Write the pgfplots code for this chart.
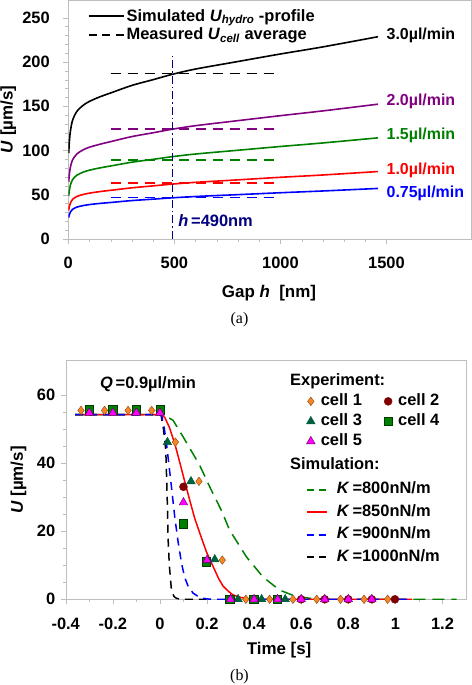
\documentclass[border=0pt]{standalone}
\usepackage{fontspec}
\setmainfont{Liberation Sans}
\newfontfamily\seriffont{Liberation Serif}
\usepackage{pgfplots}
\pgfplotsset{compat=1.18}
\definecolor{navyb}{RGB}{0,0,128}
\definecolor{purp}{RGB}{128,0,128}
\definecolor{grn}{RGB}{0,128,0}
\definecolor{c1f}{RGB}{247,134,38}
\definecolor{c1d}{RGB}{140,70,10}
\definecolor{c2f}{RGB}{128,0,0}
\definecolor{c3f}{RGB}{0,96,64}
\definecolor{c4f}{RGB}{0,128,0}
\definecolor{c4d}{RGB}{0,60,0}
\definecolor{c5f}{RGB}{255,0,255}
\definecolor{c5d}{RGB}{90,0,90}
\definecolor{frame}{RGB}{190,190,190}

\pgfplotstableread{
h U
2 97
5 110
10 122
20 134
40 144
70 151
100 155.5
150 160.7
200 165
300 173.5
400 180
490 186
600 192
800 200.5
1000 209
1200 217
1460 228.5
}\qthree
\pgfplotstableread{
h U
2 64.7
5 73.3
10 81.3
20 89.3
40 96
70 100.7
100 103.7
150 107.1
200 110
300 115.7
400 120
490 124
600 128
800 133.7
1000 139.3
1200 144.7
1460 152.3
}\qtwo
\pgfplotstableread{
h U
2 48.5
5 55
10 61
20 67
40 72
70 75.5
100 77.75
150 80.35
200 82.5
300 86.75
400 90
490 93
600 96
800 100.25
1000 104.5
1200 108.5
1460 114.25
}\qonefive
\pgfplotstableread{
h U
2 32.3
5 36.7
10 40.7
20 44.7
40 48
70 50.3
100 51.8
150 53.6
200 55
300 57.8
400 60
490 62
600 64
800 66.8
1000 69.7
1200 72.3
1460 76.2
}\qone
\pgfplotstableread{
h U
2 24.25
5 27.5
10 30.5
20 33.5
40 36
70 37.75
100 38.9
150 40.2
200 41.25
300 43.4
400 45
490 46.5
600 48
800 50.1
1000 52.25
1200 54.25
1460 57.1
}\qzsf

\pgfplotstableread{
t U
-0.36 54.2
0 54.2
0.02 54
0.056 52.5
0.1 47.5
0.169 39.3
0.215 32.5
0.261 26.1
0.296 20.3
0.367 12.5
0.437 6.6
0.508 2.7
0.579 0.8
0.65 0.2
0.72 0
1.26 0
}\keight
\pgfplotstableread{
t U
-0.36 54.2
0 54.2
0.01 54
0.021 53.3
0.04 50.5
0.063 45.7
0.085 40
0.106 34.4
0.127 29
0.148 23.7
0.169 19.5
0.197 14
0.226 9.6
0.25 6
0.268 3.9
0.29 2.4
0.31 1.3
0.34 0.6
0.37 0.2
0.42 0
1.07 0
}\keightfifty
\pgfplotstableread{
t U
-0.36 54.2
0 54.2
0.007 54
0.018 50.5
0.028 45.7
0.049 33
0.063 24.2
0.077 17
0.092 10.5
0.105 6.5
0.12 3.8
0.141 1.8
0.17 0.5
0.2 0.1
0.25 0
1.07 0
}\knine
\pgfplotstableread{
t U
-0.36 54.2
0 54.2
0.005 54
0.015 50
0.025 43.7
0.028 36.9
0.032 27
0.035 17.4
0.04 10
0.049 2.7
0.06 0.8
0.07 0.3
0.09 0
0.197 0
}\kthousand

\begin{document}
\begin{tikzpicture}[x=1bp,y=1bp]
\useasboundingbox (0,0) rectangle (472,685);

% ---------------- (a) ----------------
\begin{axis}[
  at={(68.3bp,446bp)}, anchor=origin, scale only axis,
  width=403bp, height=239bp,
  xmin=0, xmax=1900, ymin=0, ymax=270,
  xtick={0,500,1000,1500}, ytick={0,50,...,250},
  minor x tick num=4, minor y tick num=4,
  xtick pos=lower, ytick pos=left,
  tick align=outside, major tick length=5bp, minor tick length=3bp,
  axis line style={draw=frame}, tick style={draw=frame},
  /pgf/number format/assume math mode=true,
  /pgf/number format/set thousands separator={},
  tick label style={font=\fontsize{16.5}{16.5}\selectfont\bfseries},
  xticklabel style={yshift=-10bp},
  yticklabel style={xshift=-10bp},
  xlabel={Gap \textit{h}\ \ [nm]}, ylabel={\textit{U} [µm/s]},
  label style={font=\fontsize{17}{17}\selectfont\bfseries},
  xlabel style={at={(axis description cs:0.498,-0.226)}, anchor=center},
  ylabel style={at={(axis description cs:-0.149,0.5)}, anchor=center},
  legend style={at={(axis description cs:0.045,0.975)}, anchor=north west,
    draw=none, fill=none, font=\fontsize{16.5}{16.5}\selectfont\bfseries,
    row sep=1.5bp, inner sep=1bp},
  legend cell align=left,
  legend image code/.code={\draw[#1] (0bp,0bp) -- (35bp,0bp);},
]
\addlegendimage{black, line width=2bp}
\addlegendentry{Simulated \textit{U}\textsubscript{\textit{hydro}} -profile}
\addlegendimage{black, line width=2bp, dash pattern=on 8bp off 5.5bp}
\addlegendentry{Measured \textit{U}\textsubscript{\textit{cell}} average}

\addplot[blue, line width=1.5bp, dash pattern=on 10bp off 7bp] coordinates {(200,47) (1000,47)};
\addplot[red, line width=1.5bp, dash pattern=on 10bp off 7bp] coordinates {(200,63) (1000,63)};
\addplot[grn, line width=1.5bp, dash pattern=on 10bp off 7bp] coordinates {(200,89.3) (1000,89.3)};
\addplot[purp, line width=1.5bp, dash pattern=on 10bp off 7bp] coordinates {(200,124) (1000,124)};
\addplot[black, line width=1.5bp, dash pattern=on 10bp off 7bp] coordinates {(200,187) (1000,187)};

\addplot[black, line width=1.6bp, smooth] table[x=h,y=U] {\qthree};
\addplot[purp, line width=1.6bp, smooth] table[x=h,y=U] {\qtwo};
\addplot[grn, line width=1.6bp, smooth] table[x=h,y=U] {\qonefive};
\addplot[red, line width=1.6bp, smooth] table[x=h,y=U] {\qone};
\addplot[blue, line width=1.6bp, smooth] table[x=h,y=U] {\qzsf};

\addplot[navyb, line width=1bp, dash pattern=on 8bp off 3bp on 1.5bp off 3bp] coordinates {(490,0) (490,208)};

\node[anchor=west, inner sep=0, font=\fontsize{16}{16}\selectfont\bfseries, text=black] at (axis cs:1500,230) {3.0µl/min};
\node[anchor=west, inner sep=0, font=\fontsize{16}{16}\selectfont\bfseries, text=purp] at (axis cs:1500,155) {2.0µl/min};
\node[anchor=west, inner sep=0, font=\fontsize{16}{16}\selectfont\bfseries, text=grn] at (axis cs:1500,116.7) {1.5µl/min};
\node[anchor=west, inner sep=0, font=\fontsize{16}{16}\selectfont\bfseries, text=red] at (axis cs:1500,77) {1.0µl/min};
\node[anchor=west, inner sep=0, font=\fontsize{16}{16}\selectfont\bfseries, text=blue] at (axis cs:1500,51.8) {0.75µl/min};
\node[anchor=west, inner sep=0, font=\fontsize{16.5}{16.5}\selectfont\bfseries, text=navyb] at (axis cs:518,21) {\textit{h}\,=490nm};
\end{axis}

\node[font=\seriffont\fontsize{16}{16}\selectfont] at (239.5,365) {(a)};

% ---------------- (b) lines ----------------
\begin{axis}[
  at={(159.9bp,85.7bp)}, anchor=origin, scale only axis,
  width=400.3bp, height=238.6bp,
  xmin=-0.4, xmax=1.3, ymin=0, ymax=70,
  xtick={-0.4,-0.2,...,1.21}, ytick={0,20,40,60},
  minor x tick num=1, minor y tick num=3,
  xtick pos=lower, ytick pos=left,
  tick align=outside, major tick length=5bp, minor tick length=3bp,
  axis line style={draw=frame}, tick style={draw=frame},
  /pgf/number format/assume math mode=true,
  tick label style={font=\fontsize{16.5}{16.5}\selectfont\bfseries},
  xticklabel style={yshift=-10bp},
  yticklabel style={xshift=-2bp},
  xlabel={Time [s]}, ylabel={\textit{U} [µm/s]},
  label style={font=\fontsize{17}{17}\selectfont\bfseries},
  xlabel style={at={(axis description cs:0.533,-0.215)}, anchor=center},
  ylabel style={at={(axis description cs:-0.118,0.5)}, anchor=center},
  legend style={at={(axis description cs:0.600,0.493)}, anchor=north west,
    draw=none, fill=none, font=\fontsize{16.5}{16.5}\selectfont\bfseries,
    nodes={inner sep=0pt, text height=12bp, text depth=4bp},
    row sep=6.4bp, inner sep=0bp,
    /tikz/every odd column/.append style={column sep=9bp}},
  legend cell align=left,
  legend image code/.code={\draw[#1] (0bp,0bp) -- (20bp,0bp);},
]
\addplot[grn, line width=1.5bp, dash pattern=on 12bp off 7bp, forget plot] table[x=t,y=U] {\keight};
\addplot[red, line width=1.5bp, forget plot] table[x=t,y=U] {\keightfifty};
\addplot[black, line width=1.5bp, dash pattern=on 8bp off 6bp, forget plot] table[x=t,y=U] {\kthousand};
\addplot[blue, line width=1.5bp, dash pattern=on 8bp off 6bp, forget plot] table[x=t,y=U] {\knine};
\addlegendimage{grn, line width=1.8bp, dash pattern=on 7bp off 5bp}
\addlegendentry{\textit{K}\,=800nN/m}
\addlegendimage{red, line width=1.8bp}
\addlegendentry{\textit{K}\,=850nN/m}
\addlegendimage{blue, line width=1.8bp, dash pattern=on 7bp off 5bp}
\addlegendentry{\textit{K}\,=900nN/m}
\addlegendimage{black, line width=1.8bp, dash pattern=on 7bp off 5bp}
\addlegendentry{\textit{K}\,=1000nN/m}
\end{axis}

% ---------------- (b) markers ----------------
\begin{axis}[
  at={(159.9bp,85.7bp)}, anchor=origin, scale only axis,
  width=400.3bp, height=238.6bp,
  xmin=-0.4, xmax=1.3, ymin=0, ymax=70,
  hide axis, clip=false,
  legend style={at={(axis description cs:0.601,0.864)}, anchor=north west,
    draw=none, fill=none, font=\fontsize{16.5}{16.5}\selectfont\bfseries,
    nodes={inner sep=0pt, text height=12bp, text depth=4bp},
    row sep=4bp, inner sep=0bp,
    /tikz/every odd column/.append style={column sep=0bp},
    /tikz/every even column/.append style={column sep=22bp}},
  legend columns=2,
  legend cell align=left,
  legend image code/.code={\path[draw=none,fill=none] (0bp,0bp) -- (10bp,0bp); \draw[#1] plot coordinates {(0bp,0bp)};},
]
\addplot[only marks, mark=diamond*, mark size=4.3bp, mark options={fill=c1f, draw=c1d, line width=0.4bp}] coordinates {
(-0.335,55.4) (-0.235,55.4) (-0.135,55.4) (-0.035,55.4) (0.066,46.1) (0.166,34.6) (0.265,11.5)
(0.365,0) (0.466,0) (0.565,0) (0.666,0) (0.767,0) (0.867,0) (0.967,0)};
\addplot[only marks, mark=*, mark size=4bp, mark options={fill=c2f, draw=c2f}] coordinates {
(-0.3,55.4) (-0.2,55.4) (-0.1,55.4) (0,55.4) (0.1,33) (0.6,0) (0.7,0) (0.8,0) (0.9,0) (0.998,0)};
\addplot[only marks, mark=triangle*, mark size=5bp, mark options={fill=c3f, draw=c3f}] coordinates {
(0.032,46.1) (0.132,34.6) (0.233,11.7) (0.332,0) (0.432,0) (0.532,0)};
\addplot[only marks, mark=square*, mark size=4.2bp, mark options={fill=c4f, draw=c4d, line width=0.4bp}] coordinates {
(-0.3,55.6) (-0.2,55.6) (-0.1,55.6) (0,55.6) (0.1,22.2) (0.197,11) (0.297,0) (0.398,0) (0.498,0)};
\addplot[only marks, mark=triangle*, mark size=5bp, mark options={fill=c5f, draw=c5d, line width=0.4bp}] coordinates {
(-0.3,54.7) (-0.2,54.7) (-0.1,54.7) (0,54.7) (0.1,28.4) (0.2,11.5)
(0.3,0) (0.4,0) (0.5,0) (0.6,0) (0.7,0) (0.8,0) (0.9,0)};
\addlegendimage{only marks, mark=diamond*, mark size=3.8bp, mark options={fill=c1f, draw=c1d, line width=0.4bp}}
\addlegendentry{cell 1}
\addlegendimage{only marks, mark=*, mark size=3.6bp, mark options={fill=c2f, draw=c2f}}
\addlegendentry{cell 2}
\addlegendimage{only marks, mark=triangle*, mark size=4bp, mark options={fill=c3f, draw=c3f}}
\addlegendentry{cell 3}
\addlegendimage{only marks, mark=square*, mark size=3.3bp, mark options={fill=c4f, draw=c4d, line width=0.4bp}}
\addlegendentry{cell 4}
\addlegendimage{only marks, mark=triangle*, mark size=4bp, mark options={fill=c5f, draw=c5d, line width=0.4bp}}
\addlegendentry{cell 5}
\end{axis}

\node[anchor=west, inner sep=0, font=\fontsize{16.5}{16.5}\selectfont\bfseries] at (290,304) {Experiment:};
\node[anchor=west, inner sep=0, font=\fontsize{16.5}{16.5}\selectfont\bfseries] at (290,221.3) {Simulation:};
\node[anchor=west, inner sep=0, font=\fontsize{16.5}{16.5}\selectfont\bfseries] at (100,300.7) {\textit{Q}\,=0.9µl/min};

\node[font=\seriffont\fontsize{16}{16}\selectfont] at (239.5,8) {(b)};
\end{tikzpicture}
\end{document}
